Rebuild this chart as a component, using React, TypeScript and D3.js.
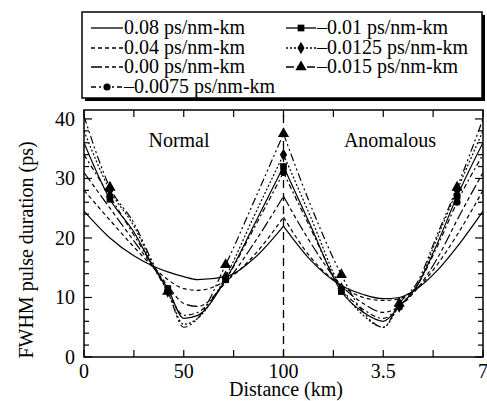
import { useEffect, useRef } from "react";
import * as d3 from "d3";

// distance samples (km), the 150/200 ticks are labelled 3.5 / 7 in the original
const distances = [0, 13, 25, 35, 42, 50, 57, 71, 85, 100, 113, 129, 140, 150, 158, 167, 177, 187, 200];
const markerDistances = [13, 42, 71, 100, 129, 158, 187];

const d008 = [24.5, 20, 17, 15.2, 14.3, 13.5, 13, 13.5, 16.5, 22, 16.5, 12, 10.5, 9.8, 10, 11.5, 14.5, 18.5, 24.5];
const d004 = [28, 23, 18.5, 15, 13, 11.5, 11.2, 12.8, 17, 23.5, 17, 12, 10, 9.5, 9.8, 11.5, 15.5, 20.5, 28];
const d000 = [31, 25, 19.5, 15, 12, 9, 8.5, 12.5, 19, 27, 19.5, 12, 9, 7.5, 8.5, 11.5, 16.5, 23, 31];
const dm0075 = [34, 27, 20.5, 15, 11, 7, 7.5, 13, 21.5, 31, 22, 11.5, 8, 6.5, 8.5, 12, 18.5, 26, 34];
const dm010 = [36, 26.5, 21, 15, 11.5, 6.5, 7, 13, 22, 32, 22.5, 11, 7.5, 6, 8.5, 12, 19, 27, 36];
const dm0125 = [38, 28, 22, 15.2, 11, 5.5, 6.5, 13.5, 23.5, 34, 24, 11.5, 7, 5, 8.5, 12, 20, 28, 38];
const dm015 = [40.5, 28.5, 22.5, 15.5, 11, 5, 6.5, 15.5, 26, 37.5, 26, 13.8, 7.5, 5, 9, 12.5, 20.5, 28.5, 40];

const xTickValues = [0, 25, 50, 75, 100, 125, 150, 175, 200];
const xTickLabels: Record<number, string> = { 0: "0", 50: "50", 100: "100", 150: "3.5", 200: "7" };
const yTickLabels = [0, 10, 20, 30, 40];

const series = [
  { label: "0.08 ps/nm-km", values: d008, dash: "", marker: "" },
  { label: "0.04 ps/nm-km", values: d004, dash: "4,3", marker: "" },
  { label: "0.00 ps/nm-km", values: d000, dash: "11,3,4,3,4,3", marker: "" },
  { label: "\u20130.0075 ps/nm-km", values: dm0075, dash: "5,3,2,3", marker: "circle" },
  { label: "\u20130.01 ps/nm-km", values: dm010, dash: "", marker: "square" },
  { label: "\u20130.0125 ps/nm-km", values: dm0125, dash: "2,2", marker: "diamond" },
  { label: "\u20130.015 ps/nm-km", values: dm015, dash: "8,3,2,3,2,3", marker: "triangle" },
];

const FONT = "'Liberation Serif', 'Times New Roman', serif";

function symbolFor(name: string) {
  if (name === "circle") return d3.symbol(d3.symbolCircle, 40);
  if (name === "square") return d3.symbol(d3.symbolSquare, 45);
  if (name === "diamond") return d3.symbol(d3.symbolDiamond, 45);
  return d3.symbol(d3.symbolTriangle, 55);
}

export default function App() {
  const svgRef = useRef<SVGSVGElement | null>(null);

  useEffect(() => {
    if (!svgRef.current) return;
    const svg = d3.select(svgRef.current);
    svg.selectAll("*").remove();

    const left = 84, right = 483, top = 110, bottom = 357;
    const x = d3.scaleLinear().domain([0, 200]).range([left, right]);
    const y = d3.scaleLinear().domain([0, 41.5]).range([bottom, top]);

    svg.append("rect").attr("width", 487).attr("height", 401).attr("fill", "white");

    svg.append("defs").append("clipPath").attr("id", "plot-clip")
      .append("rect").attr("x", left).attr("y", top).attr("width", right - left).attr("height", bottom - top);

    // legend box with heavy shadow
    const lg = svg.append("g");
    lg.append("rect").attr("x", 85).attr("y", 15).attr("width", 400).attr("height", 86).attr("fill", "black");
    lg.append("rect").attr("x", 82).attr("y", 12).attr("width", 400).attr("height", 86)
      .attr("fill", "white").attr("stroke", "black").attr("stroke-width", 1.5);

    const legendPos = [
      { lx: 91, lw: 32, tx: 124, ty: 28 },
      { lx: 91, lw: 32, tx: 124, ty: 48 },
      { lx: 91, lw: 32, tx: 124, ty: 67 },
      { lx: 91, lw: 32, tx: 124, ty: 87 },
      { lx: 286, lw: 30, tx: 317, ty: 28 },
      { lx: 286, lw: 30, tx: 317, ty: 48 },
      { lx: 286, lw: 30, tx: 317, ty: 67 },
    ];
    series.forEach((s, i) => {
      const p = legendPos[i];
      lg.append("line")
        .attr("x1", p.lx).attr("x2", p.lx + p.lw).attr("y1", p.ty).attr("y2", p.ty)
        .attr("stroke", "black").attr("stroke-width", 1.3)
        .attr("stroke-dasharray", s.dash || null);
      if (s.marker) {
        lg.append("path")
          .attr("d", symbolFor(s.marker)())
          .attr("transform", `translate(${p.lx + p.lw / 2},${p.ty})`)
          .attr("fill", "black");
      }
      lg.append("text")
        .attr("x", p.tx).attr("y", p.ty + 6)
        .attr("font-family", FONT).attr("font-size", 20)
        .text(s.label);
    });

    // plot frame
    svg.append("rect").attr("x", left).attr("y", top).attr("width", right - left).attr("height", bottom - top)
      .attr("fill", "none").attr("stroke", "black").attr("stroke-width", 1.5);

    // ticks, pointing inward on all four sides
    const ticks = svg.append("g").attr("stroke", "black").attr("stroke-width", 1.2);
    d3.range(0, 41, 2).forEach(v => {
      const len = v % 10 === 0 ? 8 : 5;
      ticks.append("line").attr("x1", left).attr("x2", left + len).attr("y1", y(v)).attr("y2", y(v));
      ticks.append("line").attr("x1", right).attr("x2", right - len).attr("y1", y(v)).attr("y2", y(v));
    });
    xTickValues.forEach(v => {
      ticks.append("line").attr("x1", x(v)).attr("x2", x(v)).attr("y1", bottom).attr("y2", bottom - 7);
      ticks.append("line").attr("x1", x(v)).attr("x2", x(v)).attr("y1", top).attr("y2", top + 7);
    });

    const labels = svg.append("g").attr("font-family", FONT).attr("font-size", 20).attr("fill", "black");
    yTickLabels.forEach(v => {
      labels.append("text").attr("x", 75).attr("y", y(v) + 7).attr("text-anchor", "end").text(String(v));
    });
    xTickValues.filter(v => xTickLabels[v] !== undefined).forEach(v => {
      labels.append("text").attr("x", x(v)).attr("y", 378).attr("text-anchor", "middle").text(xTickLabels[v]);
    });
    labels.append("text").attr("x", 286).attr("y", 396).attr("text-anchor", "middle").text("Distance (km)");
    labels.append("text").attr("transform", "translate(33,250) rotate(-90)")
      .attr("text-anchor", "middle").text("FWHM pulse duration (ps)");
    labels.append("text").attr("x", 179).attr("y", 147).attr("text-anchor", "middle").text("Normal");
    labels.append("text").attr("x", 390).attr("y", 147).attr("text-anchor", "middle").text("Anomalous");

    // vertical dashed line at 100 km
    svg.append("line").attr("x1", x(100)).attr("x2", x(100)).attr("y1", bottom).attr("y2", top)
      .attr("stroke", "black").attr("stroke-width", 1.3).attr("stroke-dasharray", "8,5");

    const plot = svg.append("g").attr("clip-path", "url(#plot-clip)");
    const line = d3.line<[number, number]>()
      .x(d => x(d[0]))
      .y(d => y(d[1]))
      .curve(d3.curveMonotoneX);

    const mid = distances.indexOf(100);
    series.forEach(s => {
      const pts: [number, number][] = distances.map((dv, i) => [dv, s.values[i]]);
      // normal and anomalous spans drawn separately so the cusp at 100 km stays sharp
      const halves = [pts.slice(0, mid + 1), pts.slice(mid)];
      const path = halves.map(h => line(h)).join("");
      plot.append("path")
        .attr("d", path)
        .attr("fill", "none").attr("stroke", "black").attr("stroke-width", 1.2)
        .attr("stroke-dasharray", s.dash || null);
      if (s.marker) {
        markerDistances.forEach(m => {
          const idx = distances.indexOf(m);
          plot.append("path")
            .attr("d", symbolFor(s.marker)())
            .attr("transform", `translate(${x(m)},${y(s.values[idx])})`)
            .attr("fill", "black");
        });
      }
    });
  }, []);

  return (
    <svg ref={svgRef} width={487} height={401}
      style={{ position: "absolute", left: 0, top: 0, display: "block" }} />
  );
}
